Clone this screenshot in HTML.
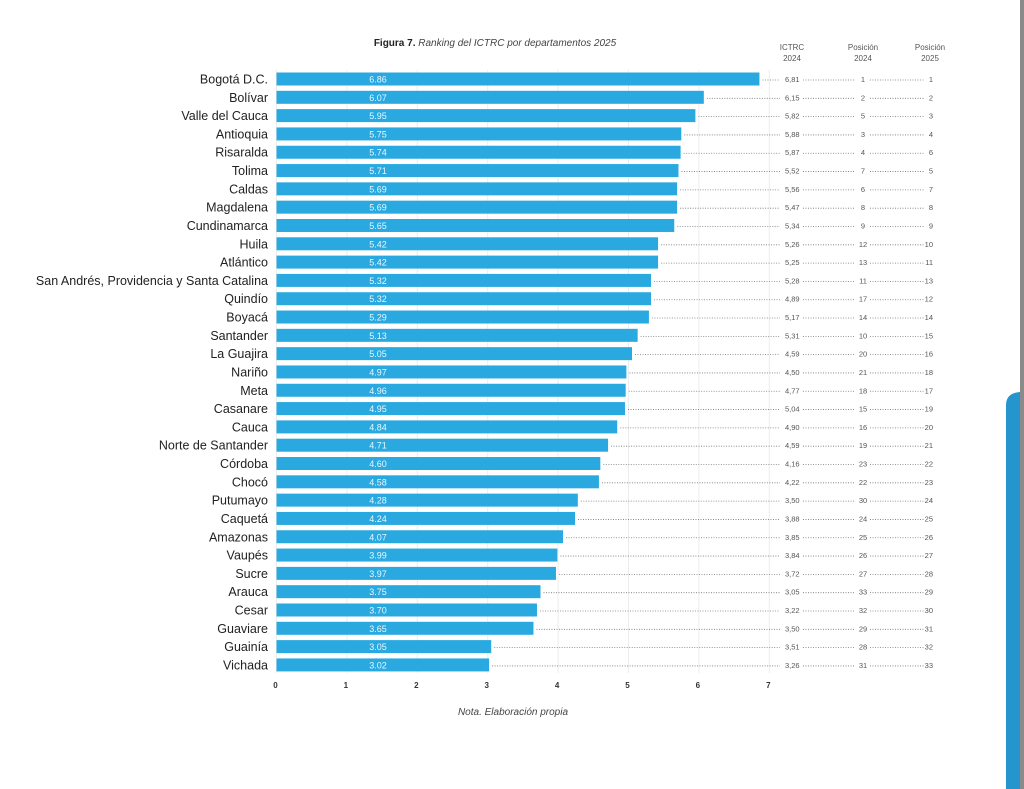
<!DOCTYPE html>
<html><head><meta charset="utf-8"><style>
html,body{margin:0;padding:0;background:#fff;}
svg{display:block;font-family:"Liberation Sans",sans-serif;}
</style></head><body>
<svg width="1024" height="789" viewBox="0 0 1024 789" xmlns="http://www.w3.org/2000/svg">
<rect width="1024" height="789" fill="#fff"/>
<rect x="1020" y="0" width="4" height="789" fill="#8a8a8a"/>
<path d="M1006 789 V405 Q1006 393 1020 392 V789 Z" fill="#2596cd"/>
<text x="495" y="46" font-size="10" text-anchor="middle" fill="#222"><tspan font-weight="bold">Figura 7.</tspan><tspan font-style="italic" fill="#444"> Ranking del ICTRC por departamentos 2025</tspan></text>
<g font-size="8" fill="#555" text-anchor="middle">
<text x="792" y="50">ICTRC</text><text x="792" y="61">2024</text>
<text x="863" y="50">Posición</text><text x="863" y="61">2024</text>
<text x="930" y="50">Posición</text><text x="930" y="61">2025</text>
</g>
<g id="grid" stroke="#ececec" stroke-width="1"></g>
<g id="rows"></g>
<g font-size="8" font-weight="bold" fill="#333" text-anchor="middle" id="ticks"></g>
<text x="513" y="715" font-size="10" font-style="italic" fill="#444" text-anchor="middle">Nota. Elaboración propia</text>
<script>
var d=[["Bogotá D.C.","6.86",6.86,"6,81",1,1],["Bolívar","6.07",6.07,"6,15",2,2],["Valle del Cauca","5.95",5.95,"5,82",5,3],["Antioquia","5.75",5.75,"5,88",3,4],["Risaralda","5.74",5.74,"5,87",4,6],["Tolima","5.71",5.71,"5,52",7,5],["Caldas","5.69",5.69,"5,56",6,7],["Magdalena","5.69",5.69,"5,47",8,8],["Cundinamarca","5.65",5.65,"5,34",9,9],["Huila","5.42",5.42,"5,26",12,10],["Atlántico","5.42",5.42,"5,25",13,11],["San Andrés, Providencia y Santa Catalina","5.32",5.32,"5,28",11,13],["Quindío","5.32",5.32,"4,89",17,12],["Boyacá","5.29",5.29,"5,17",14,14],["Santander","5.13",5.13,"5,31",10,15],["La Guajira","5.05",5.05,"4,59",20,16],["Nariño","4.97",4.97,"4,50",21,18],["Meta","4.96",4.96,"4,77",18,17],["Casanare","4.95",4.95,"5,04",15,19],["Cauca","4.84",4.84,"4,90",16,20],["Norte de Santander","4.71",4.71,"4,59",19,21],["Córdoba","4.60",4.60,"4,16",23,22],["Chocó","4.58",4.58,"4,22",22,23],["Putumayo","4.28",4.28,"3,50",30,24],["Caquetá","4.24",4.24,"3,88",24,25],["Amazonas","4.07",4.07,"3,85",25,26],["Vaupés","3.99",3.99,"3,84",26,27],["Sucre","3.97",3.97,"3,72",27,28],["Arauca","3.75",3.75,"3,05",33,29],["Cesar","3.70",3.70,"3,22",32,30],["Guaviare","3.65",3.65,"3,50",29,31],["Guainía","3.05",3.05,"3,51",28,32],["Vichada","3.02",3.02,"3,26",31,33]];
var NS="http://www.w3.org/2000/svg",x0=276.5,k=70.4;
function el(t,a,p,txt){var e=document.createElementNS(NS,t);for(var i in a)e.setAttribute(i,a[i]);if(txt!=null)e.textContent=txt;p.appendChild(e);return e;}
var g=document.getElementById("grid"),r=document.getElementById("rows"),tk=document.getElementById("ticks");
for(var i=0;i<=7;i++){var x=x0+i*k;el("line",{x1:x,y1:70,x2:x,y2:673},g);el("text",{x:x-1,y:688},tk,""+i);}
d.forEach(function(v,i){var cy=79+i*18.31,w=v[2]*k;
el("rect",{x:x0,y:cy-6.5,width:w,height:13,fill:"#2aa9e0"},r);
el("text",{x:378,y:cy+3.5,"font-size":"9","fill":"#e8f6fd","text-anchor":"middle"},r,v[1]);
el("text",{x:268,y:cy+4.5,"font-size":"12.5","fill":"#222","text-anchor":"end"},r,v[0]);
var dot={stroke:"#777","stroke-width":"0.8","stroke-dasharray":"1 1.5"};
function ln(a,b){var o={x1:a,y1:cy+1,x2:b,y2:cy+1};for(var q in dot)o[q]=dot[q];el("line",o,r);}
ln(x0+w+3,780);ln(803,855);ln(870,925);
el("text",{x:785,y:cy+3,"font-size":"7.5","fill":"#555"},r,v[3]);
el("text",{x:863,y:cy+3,"font-size":"7.5","fill":"#555","text-anchor":"middle"},r,""+v[4]);
el("text",{x:933,y:cy+3,"font-size":"7.5","fill":"#555","text-anchor":"end"},r,""+v[5]);
});
</script>
</svg>
</body></html>
